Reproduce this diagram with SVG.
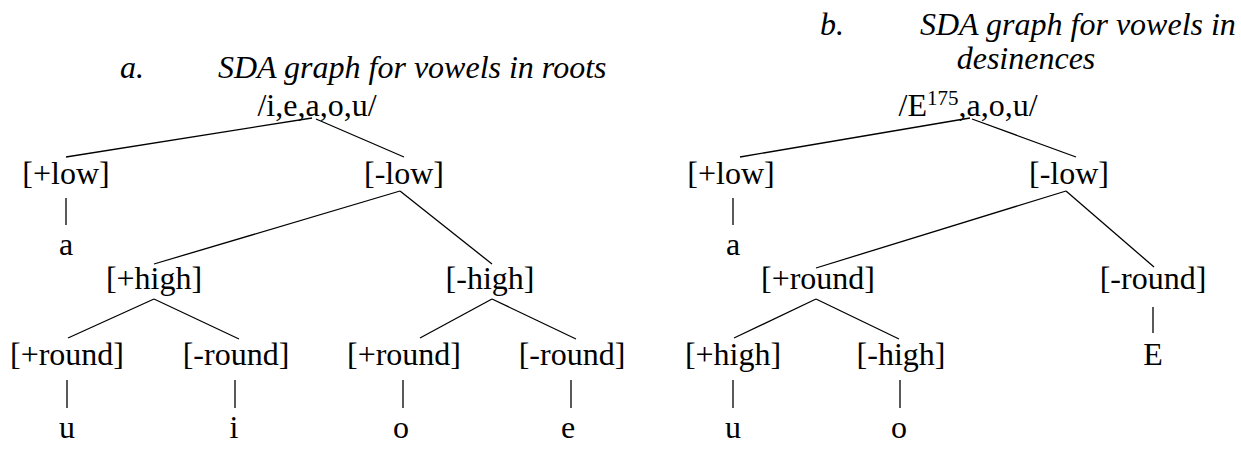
<svg xmlns="http://www.w3.org/2000/svg" width="1241" height="470" viewBox="0 0 1241 470">
<style>
text{font-family:"Liberation Serif","Times New Roman",serif;font-size:32px;fill:#000}
.t{font-style:italic}
.n{text-anchor:middle}
line{stroke:#000;stroke-width:1.3}
</style>
<rect width="1241" height="470" fill="#fff"/>
<g id="title-a"><text class="t" x="120" y="78">a.</text><text class="t" x="218" y="78">SDA graph for vowels in roots</text></g>
<g id="title-b"><text class="t" x="820" y="35">b.</text><text class="t" x="920" y="35">SDA graph for vowels in</text><text class="t n" x="1026" y="69">desinences</text></g>
<g id="a-root"><text class="n" x="317" y="116">/i,e,a,o,u/</text></g>
<g id="a-plow"><text class="n" x="66" y="184">[+low]</text></g>
<g id="a-mlow"><text class="n" x="404" y="184">[-low]</text></g>
<g id="a-a"><text class="n" x="66" y="255">a</text></g>
<g id="a-phigh"><text class="n" x="154" y="289">[+high]</text></g>
<g id="a-mhigh"><text class="n" x="490" y="289">[-high]</text></g>
<g id="a-pr1"><text class="n" x="67" y="365">[+round]</text></g>
<g id="a-mr1"><text class="n" x="236" y="365">[-round]</text></g>
<g id="a-pr2"><text class="n" x="404" y="365">[+round]</text></g>
<g id="a-mr2"><text class="n" x="572" y="365">[-round]</text></g>
<g id="a-u"><text class="n" x="67" y="438">u</text></g>
<g id="a-i"><text class="n" x="234" y="438">i</text></g>
<g id="a-o"><text class="n" x="401" y="438">o</text></g>
<g id="a-e"><text class="n" x="568" y="438">e</text></g>
<g id="b-root"><text class="n" x="968" y="116">/E<tspan font-size="21" dy="-11">175</tspan><tspan dy="11">,a,o,u/</tspan></text></g>
<g id="b-plow"><text class="n" x="731" y="184">[+low]</text></g>
<g id="b-mlow"><text class="n" x="1069" y="184">[-low]</text></g>
<g id="b-a"><text class="n" x="733" y="255">a</text></g>
<g id="b-pround"><text class="n" x="818" y="289">[+round]</text></g>
<g id="b-mround"><text class="n" x="1153" y="289">[-round]</text></g>
<g id="b-E"><text class="n" x="1153" y="365">E</text></g>
<g id="b-phigh"><text class="n" x="733" y="365">[+high]</text></g>
<g id="b-mhigh"><text class="n" x="901" y="365">[-high]</text></g>
<g id="b-u"><text class="n" x="733" y="438">u</text></g>
<g id="b-o"><text class="n" x="899" y="438">o</text></g>
<g id="connectors">
<line x1="312" y1="118" x2="66" y2="157"/>
<line x1="316" y1="119" x2="404" y2="157"/>
<line x1="66" y1="198" x2="66" y2="225"/>
<line x1="400" y1="191" x2="154" y2="264"/>
<line x1="400" y1="191" x2="492" y2="264"/>
<line x1="154" y1="299" x2="68" y2="338"/>
<line x1="154" y1="299" x2="239" y2="339"/>
<line x1="492" y1="299" x2="420" y2="338"/>
<line x1="492" y1="299" x2="576" y2="339"/>
<line x1="67" y1="380" x2="67" y2="408"/>
<line x1="235" y1="380" x2="235" y2="408"/>
<line x1="403" y1="380" x2="403" y2="408"/>
<line x1="571" y1="380" x2="571" y2="408"/>
<line x1="970" y1="118" x2="740" y2="157"/>
<line x1="972" y1="119" x2="1076" y2="157"/>
<line x1="733" y1="198" x2="733" y2="225"/>
<line x1="1066" y1="191" x2="816" y2="268"/>
<line x1="1066" y1="191" x2="1154" y2="267"/>
<line x1="816" y1="299" x2="734" y2="338"/>
<line x1="816" y1="299" x2="899" y2="339"/>
<line x1="1153" y1="307" x2="1153" y2="333"/>
<line x1="733" y1="380" x2="733" y2="408"/>
<line x1="900" y1="380" x2="900" y2="408"/>
</g>
</svg>
